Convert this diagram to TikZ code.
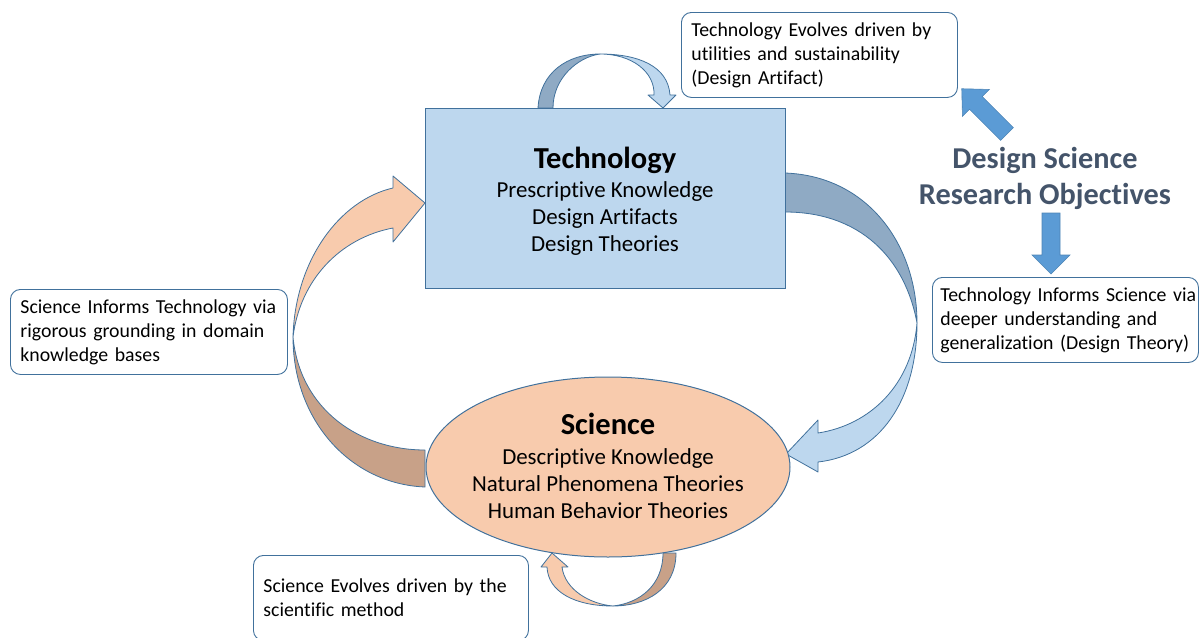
\documentclass[tikz,border=0pt]{standalone}
\usepackage{fontspec}
\setmainfont{Carlito}[Ligatures=NoCommon]
\usetikzlibrary{shapes.geometric}
\definecolor{edgeblue}{HTML}{41719C}
\definecolor{techfill}{HTML}{BDD7EE}
\definecolor{scifill}{HTML}{F8CBAD}
\definecolor{backblue}{HTML}{8FAAC4}
\definecolor{backbrown}{HTML}{C8A188}
\definecolor{dsrblue}{HTML}{5B9BD5}
\definecolor{dsrtext}{HTML}{44546A}
\newcommand{\maintitlefont}{\fontsize{30.5}{27}\selectfont\bfseries}
\tikzset{
  notebox/.style={draw=edgeblue,fill=white,rounded corners=10pt,line width=0.9pt,
    align=left,anchor=north west,inner xsep=10pt,inner ysep=0pt,minimum height=85pt,
    font=\fontsize{19.8}{24}\selectfont},
  loopface/.style={draw=edgeblue,line width=0.8pt,line join=round},
  dsrarrow/.style={draw=dsrblue!85!black,fill=dsrblue,line width=0.6pt,line join=miter},
  mainshape/.style={draw=edgeblue,line width=1pt,inner sep=0pt},
  maintext/.style={align=center,inner sep=0pt,font=\fontsize{22.9}{27}\selectfont}
}

\begin{document}
\begin{tikzpicture}[x=1pt,y=-1pt]
  \useasboundingbox (0,0) rectangle (1199,637);

  % loop over technology
  \filldraw[loopface,fill=backblue] (538,108) .. controls (540,72) and (568,54) .. (600,54)
     .. controls (578,57) and (553,78) .. (553,108) -- cycle;
  \filldraw[loopface,fill=techfill] (600,54) .. controls (632,54) and (655,72) .. (654,95)
     -- (648,95) -- (663,108) -- (676,95) -- (670,95)
     .. controls (668,66) and (638,54) .. (600,54) -- cycle;

  % technology to science
  \filldraw[loopface,fill=backblue] (785,173) .. controls (868,176) and (917,245) .. (917,323)
     .. controls (905,258) and (860,212) .. (785,212) -- cycle;
  \filldraw[loopface,fill=techfill] (917,323) .. controls (917,400) and (880,455) .. (818,462)
     -- (818,472) -- (786,454) -- (818,420) -- (818,433)
     .. controls (870,425) and (912,385) .. (917,323) -- cycle;

  % science to technology
  \filldraw[loopface,fill=backbrown] (293,337) .. controls (293,420) and (350,484) .. (425,487)
     -- (425,450) .. controls (360,450) and (300,410) .. (293,337) -- cycle;
  \filldraw[loopface,fill=scifill] (293,337) .. controls (295,260) and (340,200) .. (393,188)
     -- (393,176) -- (425,203) -- (393,242) -- (393,228)
     .. controls (340,238) and (300,280) .. (293,337) -- cycle;

  % loop under science
  \filldraw[loopface,fill=backbrown] (663,553) -- (676,553) .. controls (676,590) and (645,606) .. (613,606)
     .. controls (640,603) and (663,585) .. (663,553) -- cycle;
  \filldraw[loopface,fill=scifill] (613,606) .. controls (575,606) and (548,592) .. (547,567)
     -- (541,567) -- (552,553) -- (568,567) -- (562,567)
     .. controls (565,590) and (590,604) .. (613,606) -- cycle;

  \node[mainshape,rectangle,fill=techfill,minimum width=360pt,minimum height=180pt] (tech) at (605,198) {};
  \node[maintext] (techtext) at (605,201)
    {{\maintitlefont Technology}\\[2pt]
     Prescriptive Knowledge\\ Design Artifacts\\ Design Theories};
  \node[mainshape,ellipse,fill=scifill,minimum width=364pt,minimum height=180pt] (sci) at (608,467) {};
  \node[maintext] (scitext) at (608,465.5)
    {{\maintitlefont Science}\\[3pt]
     Descriptive Knowledge\\ Natural Phenomena Theories\\ Human Behavior Theories};

  \node[notebox,text width=256pt] (techevo) at (681,12)
    {Technology Evolves driven by\\ utilities and sustainability\\ (Design Artifact)};
  \node[notebox,text width=250pt,inner xsep=8pt] (techinf) at (932,277)
    {\mbox{Technology Informs Science via}\\ \mbox{deeper understanding and}\\ \mbox{generalization (Design Theory)}};
  \node[notebox,text width=257pt] (sciinf) at (10,289)
    {Science Informs Technology via\\ rigorous grounding in domain\\ knowledge bases};
  \node[notebox,text width=255pt] (scievo) at (253,555)
    {Science Evolves driven by the\\ scientific method};

  \node[font=\fontsize{30.3}{35.5}\selectfont\bfseries,text=dsrtext,align=center] (dsr) at (1045,178.5)
    {Design Science\\ Research Objectives};

  \begin{scope}[shift={(1007,134)},rotate=135]
    \filldraw[dsrarrow] (0,-9) -- (44,-9) -- (44,-19) -- (64,0) -- (44,19) -- (44,9) -- (0,9) -- cycle;
  \end{scope}
  \begin{scope}[shift={(1051,213)},rotate=-90]
    \filldraw[dsrarrow] (0,-9) -- (42,-9) -- (42,-19) -- (61,0) -- (42,19) -- (42,9) -- (0,9) -- cycle;
  \end{scope}
\end{tikzpicture}
\end{document}
